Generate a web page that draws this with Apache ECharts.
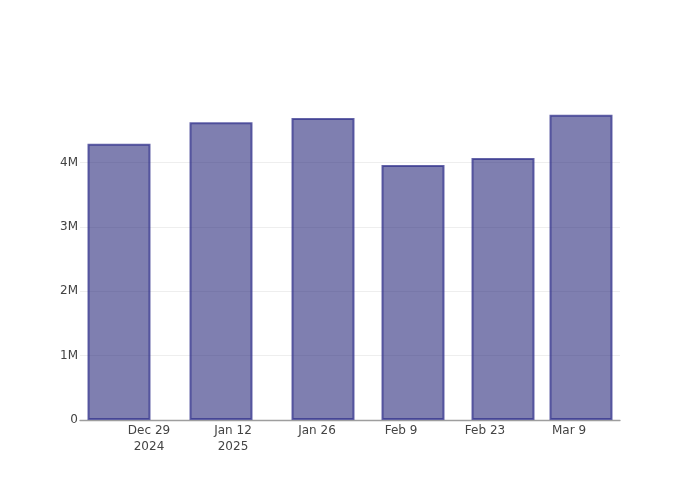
<!DOCTYPE html>
<html>
<head>
<meta charset="utf-8">
<script src="https://cdn.jsdelivr.net/npm/echarts@6/dist/echarts.min.js"></script>
<style>html,body{margin:0;padding:0;background:#fff}#c{width:700px;height:500px}</style>
</head>
<body>
<div id="c"></div>
<script>
const barDates = ['2024-12-24', '2025-01-10', '2025-01-27', '2025-02-11', '2025-02-26', '2025-03-11'];
const barValues = [4290000, 4625000, 4690000, 3960000, 4070000, 4740000];
const tickDates = ['2024-12-29', '2025-01-12', '2025-01-26', '2025-02-09', '2025-02-23', '2025-03-09'];
const tickLabels = ['Dec 29\n2024', 'Jan 12\n2025', 'Jan 26', 'Feb 9', 'Feb 23', 'Mar 9'];
const yTicks = [0, 1000000, 2000000, 3000000, 4000000];
const yTickLabels = ['0', '1M', '2M', '3M', '4M'];

const DAY = 86400000;
function ms(s) { const p = s.split('-').map(Number); return Date.UTC(p[0], p[1] - 1, p[2]); }
const tickMs = tickDates.map(ms);
const xMin = ms('2024-12-29') - 11.5 * DAY;
const xMax = ms('2024-12-29') + 78.5 * DAY;

const chart = echarts.init(document.getElementById('c'), null, {renderer: 'canvas'});
chart.setOption({
  animation: false,
  textStyle: {fontFamily: 'DejaVu Sans'},
  grid: {left: 80, right: 80, top: 100, bottom: 80, containLabel: false},
  xAxis: {
    type: 'value',
    min: xMin,
    max: xMax,
    axisLine: {show: true, lineStyle: {color: '#9e9e9e', width: 1.3}},
    axisTick: {show: false},
    splitLine: {show: false},
    axisLabel: {
      customValues: tickMs,
      color: '#444',
      fontSize: 12,
      fontFamily: 'DejaVu Sans',
      lineHeight: 16,
      margin: 3,
      hideOverlap: false,
      formatter: function (v) {
        const i = tickMs.indexOf(v);
        return i >= 0 ? tickLabels[i] : '';
      }
    }
  },
  yAxis: {
    type: 'value',
    min: 0,
    max: 4970000,
    interval: 1000000,
    axisLine: {show: false},
    axisTick: {show: false},
    splitLine: {show: true, showMaxLine: false, lineStyle: {color: '#eeeeee', width: 1}},
    axisLabel: {
      customValues: yTicks,
      color: '#444',
      fontSize: 12,
      fontFamily: 'DejaVu Sans',
      margin: 2,
      padding: [2, 0, 0, 0],
      formatter: function (v) {
        const i = yTicks.indexOf(v);
        return i >= 0 ? yTickLabels[i] : '';
      }
    }
  },
  series: [{
    type: 'bar',
    barWidth: 63,
    data: barDates.map((d, i) => [ms(d), barValues[i]]),
    itemStyle: {
      color: 'rgba(42,42,123,0.6)',
      borderColor: 'rgba(50,50,140,0.75)',
      borderWidth: 2
    }
  }]
});
</script>
</body>
</html>
